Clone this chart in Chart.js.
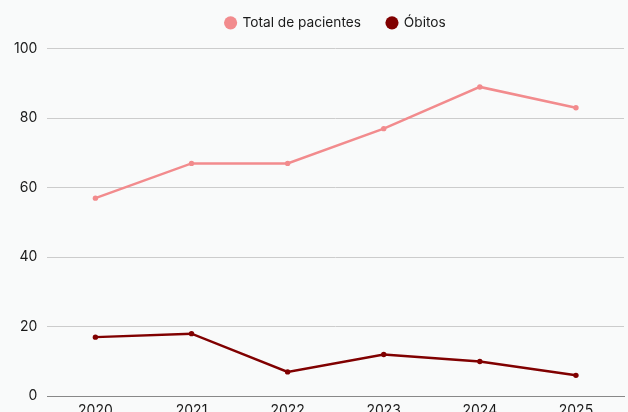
<!DOCTYPE html>
<html><head><meta charset="utf-8">
<script src="https://cdn.jsdelivr.net/npm/chart.js@4"></script>
<style>
html,body{margin:0;padding:0;background:#f9fafa;overflow:hidden;}
#wrap{position:relative;width:628px;height:425px;}
</style></head>
<body><div id="wrap"><canvas id="c"></canvas></div>
<script>
const categories = ['2020','2021','2022','2023','2024','2025'];
const totalPacientes = [57, 67, 67, 77, 89, 83];
const obitos = [17, 18, 7, 12, 10, 6];
const yTicks = [0, 20, 40, 60, 80, 100];

Chart.defaults.font.family = 'Inter, sans-serif';
Chart.defaults.color = '#1a1a1a';
new Chart(document.getElementById('c'), {
  type: 'line',
  data: {
    labels: categories,
    datasets: [
      {label: 'Total de pacientes', data: totalPacientes, borderColor: '#f28b8d', backgroundColor: '#f28b8d', borderWidth: 2.5, pointRadius: 2.7, pointBorderWidth: 0, pointHoverRadius: 4, tension: 0},
      {label: 'Óbitos', data: obitos, borderColor: '#800000', backgroundColor: '#800000', borderWidth: 2.5, pointRadius: 2.7, pointBorderWidth: 0, pointHoverRadius: 4, tension: 0}
    ]
  },
  options: {
    responsive: true, maintainAspectRatio: false, animation: false,
    layout: {padding: {left: 4, right: -2, top: -10, bottom: 0}},
    plugins: {
      legend: {fullSize: false, labels: {usePointStyle: true, pointStyle: 'circle', boxWidth: 10, boxHeight: 9.3, padding: 26, font: {size: 13.7}}},
      tooltip: {enabled: false}
    },
    scales: {
      x: {offset: true, grid: {display: false, drawTicks: false}, border: {color: '#888', width: 1}, ticks: {font: {size: 14}, padding: 6}},
      y: {min: 0, max: 100, afterBuildTicks: ax => { ax.ticks = yTicks.map(v => ({value: v})); },
          grid: {color: '#cccccc', drawTicks: false}, border: {display: false},
          ticks: {font: {size: 14}, padding: 10}}
    }
  },
  plugins: [{id: 'legendGap', afterInit(chart) {
    const lg = chart.legend;
    if (lg) { const f = lg.fit; lg.fit = function() { f.call(this); this.height += 9; }; }
  }}]
});
</script></body></html>
